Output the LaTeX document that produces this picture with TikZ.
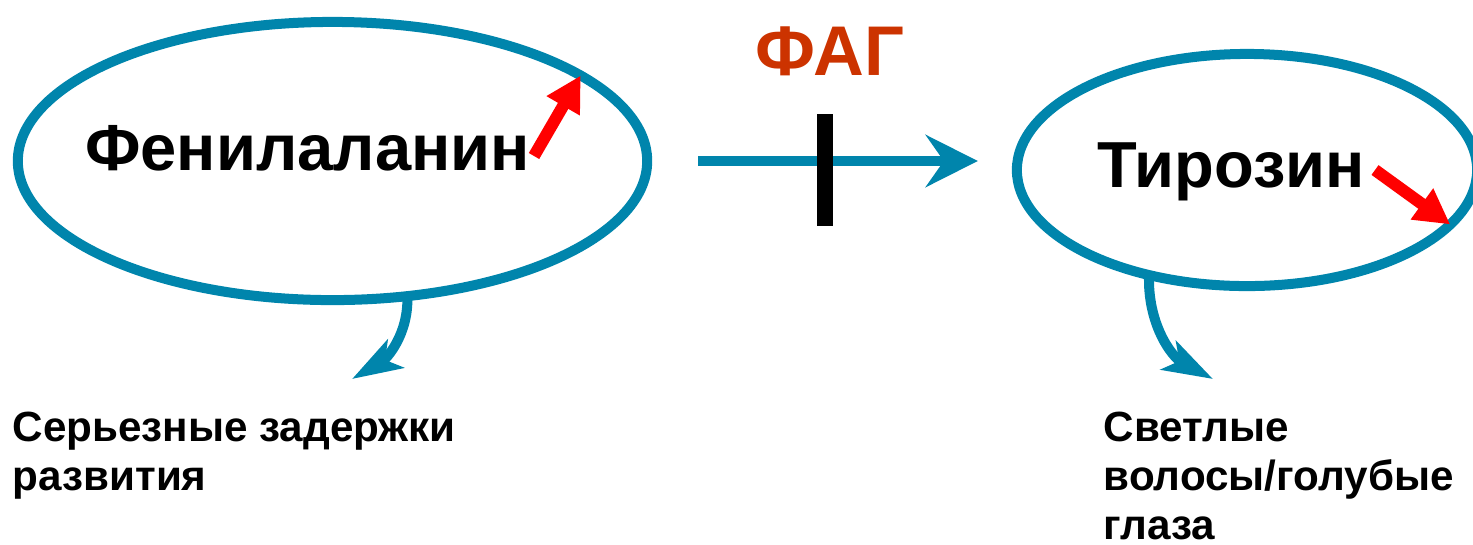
\documentclass[tikz,border=0pt]{standalone}
\usepackage{fontspec}
\setmainfont{Liberation Sans}
\usetikzlibrary{shapes.geometric,arrows.meta}
\definecolor{flowblue}{RGB}{0,133,172}
\definecolor{fagred}{RGB}{204,51,0}

\begin{document}
\begin{tikzpicture}[x=0.01cm, y=0.01cm,
  cell/.style={ellipse, draw=flowblue, line width=0.1cm, inner sep=0, outer sep=0},
  metab/.style={font=\fontsize{18.5pt}{22pt}\selectfont\bfseries, inner sep=0},
  outcome/.style={font=\fontsize{12pt}{14pt}\selectfont\bfseries, align=left, anchor=north west, inner sep=0},
  flow/.style={flowblue, line width=0.1cm},
  rise/.style={red, line width=0.12cm, -{Triangle[length=0.35cm, width=0.36cm]}}]

\useasboundingbox (0,0) rectangle (1473,544);

% metabolites
\node [cell, minimum width=6.29cm, minimum height=2.78cm] (phe) at (332.5,383) {};
\node [cell, minimum width=4.6cm, minimum height=2.32cm] (tyr) at (1247,374) {};

\node [metab, anchor=base] (phe text) at (307.5,374) {Фенилаланин};
\node [metab, anchor=base] (tyr text) at (1231,357) {Тирозин};

\node [font=\fontsize{20pt}{24pt}\selectfont\bfseries, text=fagred, anchor=base, inner sep=0] (fag) at (830,469) {ФАГ};

% blocked conversion
\draw [flow, -{Stealth[length=0.52cm, width=0.52cm, inset=0.18cm]}, shorten <=0.51cm, shorten >=0.39cm] (phe.east) -- (phe.east -| tyr.west);
\coordinate (block top) at (825,430);
\coordinate (block bottom) at (825,318);
\draw [black, line width=0.16cm] (block top) -- (block bottom);

% consequences
\coordinate (dev) at (352,165);
\coordinate (pig) at (1213,165);
\draw [flow, -{Stealth[length=0.5cm, width=0.32cm, inset=0.12cm]}] (phe.-61) to[out=-88, in=30] (dev);
\draw [flow, -{Stealth[length=0.5cm, width=0.32cm, inset=0.12cm]}] (tyr.-133) to[out=-92, in=152] (pig);

\node [outcome] (dev text) at (12,133) {Серьезные задержки\\развития};
\node [outcome] (pig text) at (1103,133) {Светлые\\волосы/голубые\\глаза};

% up / down
\coordinate (phe up) at (534,388);
\coordinate (tyr down) at (1375,374);
\draw [rise] (phe up) -- (phe.19.5);
\draw [rise] (tyr down) -- (tyr.-15.7);

\end{tikzpicture}
\end{document}
